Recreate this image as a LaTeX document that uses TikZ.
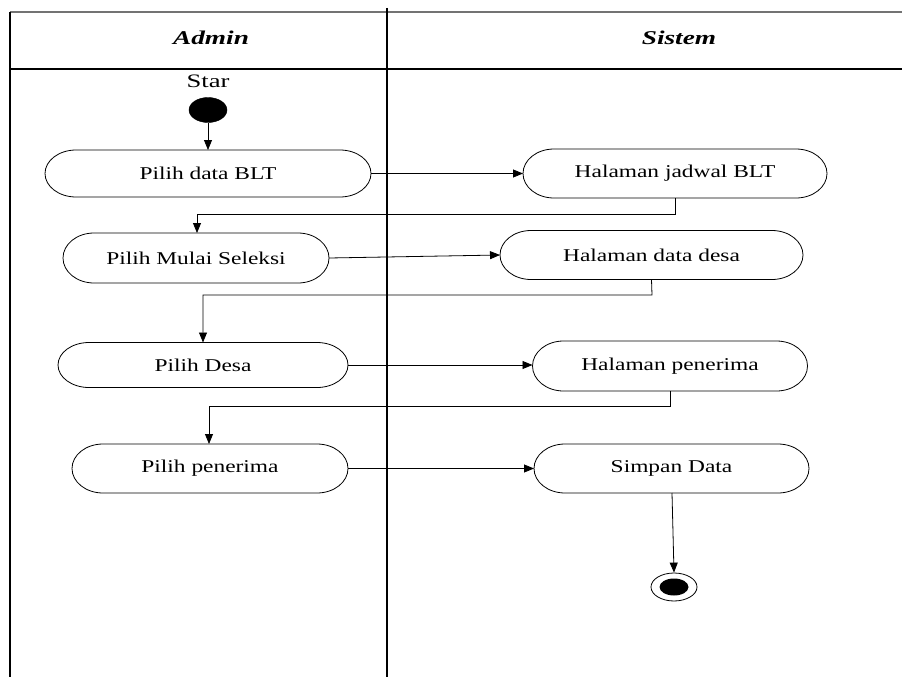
\documentclass[tikz,border=0pt]{standalone}
\usepackage{fontspec}
\setmainfont{Liberation Serif}
\usetikzlibrary{arrows.meta,shapes.geometric,calc}
% outline of an activity: straight top and bottom, elliptical ends of width #2
\newcommand\pillpath[2]{\draw[line width=0.8pt]
  ($(#1.north west)+(#2,0)$) -- ($(#1.north east)+(-#2,0)$)
  .. controls ($(#1.north east)+(-0.448*#2,0)$) and ($(#1.east)!0.552!(#1.north east)$) .. (#1.east)
  .. controls ($(#1.east)!0.552!(#1.south east)$) and ($(#1.south east)+(-0.448*#2,0)$) .. ($(#1.south east)+(-#2,0)$)
  -- ($(#1.south west)+(#2,0)$)
  .. controls ($(#1.south west)+(0.448*#2,0)$) and ($(#1.west)!0.552!(#1.south west)$) .. (#1.west)
  .. controls ($(#1.west)!0.552!(#1.north west)$) and ($(#1.north west)+(0.448*#2,0)$) .. cycle;}
\begin{document}
\begin{tikzpicture}[x=1pt,y=-1pt,
  act/.style={rectangle,inner sep=0pt,outer sep=0pt,
    font=\fontsize{18}{20}\selectfont},
  flow/.style={line width=0.8pt,-{Triangle[length=10pt,width=8pt]}},
  lane/.style={line width=1.6pt},
  head/.style={font=\fontsize{19.5}{22}\selectfont\bfseries\itshape}]
\useasboundingbox (0,0) rectangle (902,677);
\fill[white] (0,0) rectangle (902,677);

% swimlane frame
\draw[lane,draw=black!55] (10,12) -- (902,12);
\draw[lane] (10,69) -- (902,69);
\draw[lane] (10,12) -- (10,677);
\draw[lane] (387,8) -- (387,677);
\node[head] (hAdmin) at (211,38) {\scalebox{1.4}[1]{Admin}};
\node[head] (hSistem) at (679,38) {\scalebox{1.4}[1]{Sistem}};

% start
\node[font=\fontsize{19}{21}\selectfont] (lblStart) at (208,81) {\scalebox{1.4}[1]{Star}};
\node[draw,fill=black,ellipse,minimum width=38pt,minimum height=25pt,inner sep=0pt] (start) at (208,110) {};

% activities
\node[act,minimum width=326pt,minimum height=47pt] (a1) at (208,173.5) {\scalebox{1.3}[1]{Pilih data BLT}};
\node[act,minimum width=304pt,minimum height=49pt] (s1) at (675,173.5) {\scalebox{1.3}[1]{Halaman jadwal BLT}};
\node[act,minimum width=266pt,minimum height=50pt] (a2) at (196,258) {\scalebox{1.3}[1]{Pilih Mulai Seleksi}};
\node[act,minimum width=303pt,minimum height=49pt] (s2) at (651.5,255) {\scalebox{1.3}[1]{Halaman data desa}};
\node[act,minimum width=290pt,minimum height=45pt] (a3) at (203,365) {\scalebox{1.3}[1]{Pilih Desa}};
\node[act,minimum width=275pt,minimum height=50pt] (s3) at (670,366) {\scalebox{1.3}[1]{Halaman penerima}};
\node[act,minimum width=276pt,minimum height=49pt] (a4) at (210,468.5) {\scalebox{1.3}[1]{Pilih penerima}};
\node[act,minimum width=275pt,minimum height=49pt] (s4) at (671.5,468.5) {\scalebox{1.3}[1]{Simpan Data}};
\foreach \n in {a1,s1,a2,s2,a3,s3,a4,s4} {\pillpath{\n}{31}}

% end
\node[draw,ellipse,line width=0.8pt,minimum width=46pt,minimum height=28pt,inner sep=0pt] (finish) at (674,587) {};
\node[fill=black,ellipse,minimum width=29pt,minimum height=17pt,inner sep=0pt] (finishDot) at (674,587) {};

% flows
\draw[flow] (start) -- (a1);
\draw[flow] (a1.east) -- (s1.west);
\draw[flow] (s1.south) -- (675,214) -| (a2.north -| 197,0);
\draw[flow] (a2.east) -- (s2.west);
\draw[flow] (s2.south) -- (652,295) -| (a3.north);
\draw[flow] (a3.east) -- (a3.east -| s3.west);
\draw[flow] (s3.south) -- (670,406) -| (a4.north -| 209,0);
\draw[flow] (a4.east) -- (s4.west);
\draw[flow] (s4.south -| 672,0) -- (finish.north);
\end{tikzpicture}
\end{document}
